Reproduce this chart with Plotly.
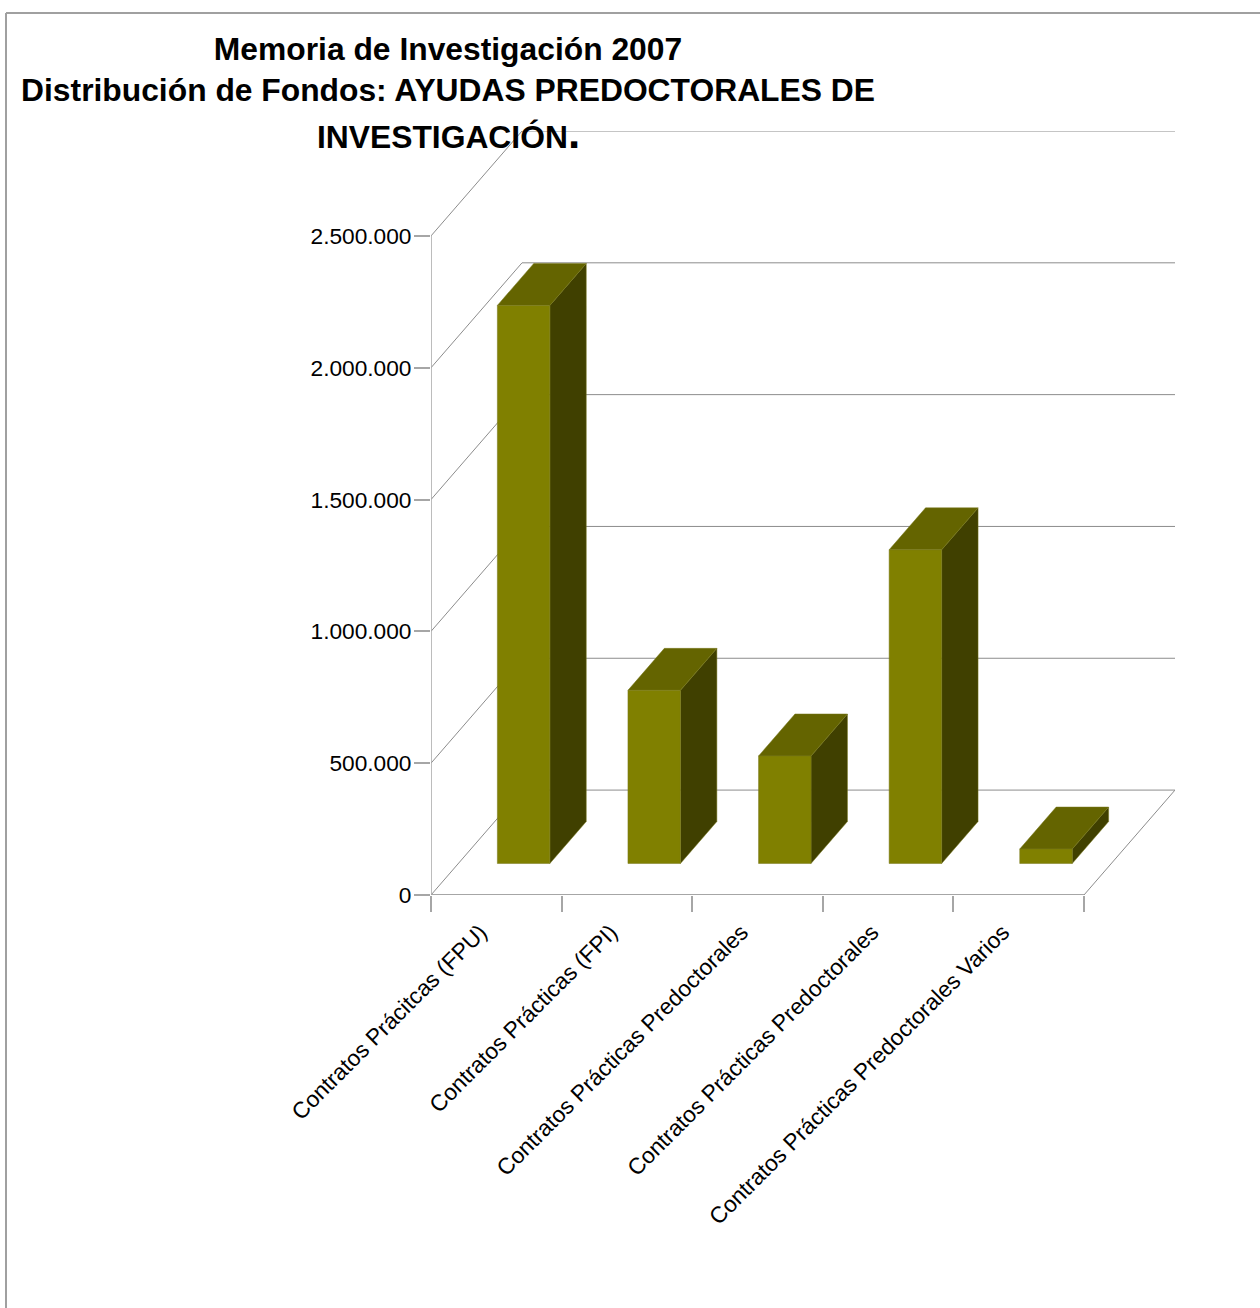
import plotly.graph_objects as go

categories = ["Contratos Prácitcas (FPU)", "Contratos Prácticas (FPI)", "Contratos Prácticas Predoctorales",
              "Contratos Prácticas Predoctorales", "Contratos Prácticas Predoctorales Varios"]
values = [2117000, 657000, 408000, 1190000, 55000]
y_ticks = [0, 500000, 1000000, 1500000, 2000000, 2500000]
y_labels = ["0", "500.000", "1.000.000", "1.500.000", "2.000.000", "2.500.000"]

FRONT, TOP, SIDE = "#808000", "#646400", "#404000"
GRID = "#8c8c8c"
AXIS = "#a6a6a6"
FONT = "Liberation Sans"

# oblique projection of the depth direction, in axis units
DEPTH_X = 0.697
DEPTH_Y = 398000
BAR_HALF = 0.201
D0, D1 = 0.3, 0.7


def proj(x, y, d):
    return x + d * DEPTH_X, y + d * DEPTH_Y


def poly(points, color):
    xs, ys = zip(*[proj(*p) for p in points])
    return go.Scatter(x=list(xs), y=list(ys), mode="lines", fill="toself", fillcolor=color,
                      line=dict(color="#77771a", width=0.5), hoverinfo="skip", showlegend=False)


def line(points, color=GRID, width=1):
    xs, ys = zip(*[proj(*p) for p in points])
    return go.Scatter(x=list(xs), y=list(ys), mode="lines", line=dict(color=color, width=width),
                      hoverinfo="skip", showlegend=False)


n = len(categories)
fig = go.Figure()

# walls and floor
for t in y_ticks:
    fig.add_trace(line([(0, t, 0), (0, t, 1), (n, t, 1)]))
fig.add_trace(line([(n, 0, 0), (n, 0, 1)]))
fig.add_trace(line([(0, 0, 0), (0, y_ticks[-1], 0)], AXIS, 1.5))
fig.add_trace(line([(0, 0, 0), (n, 0, 0)], AXIS, 2))

# bars
for i, v in enumerate(values):
    l, r = i + 0.5 - BAR_HALF, i + 0.5 + BAR_HALF
    fig.add_trace(poly([(r, 0, D0), (r, 0, D1), (r, v, D1), (r, v, D0), (r, 0, D0)], SIDE))
    fig.add_trace(poly([(l, v, D0), (r, v, D0), (r, v, D1), (l, v, D1), (l, v, D0)], TOP))
    fig.add_trace(poly([(l, 0, D0), (r, 0, D0), (r, v, D0), (l, v, D0), (l, 0, D0)], FRONT))

W, H = 1260, 1308
L, R, T, B = 431, 1175, 131, 895


def px(x):
    return (x - L) / (R - L)


def py(y):
    return (B - y) / (B - T)


fig.update_layout(
    width=W, height=H,
    margin=dict(l=L, r=W - R, t=T, b=H - B, pad=0, autoexpand=False),
    paper_bgcolor="white", plot_bgcolor="white",
    font=dict(family=FONT, color="black", size=20),
    showlegend=False,
    title=dict(
        text="<b>Memoria de Investigación 2007<br>Distribución de Fondos: AYUDAS PREDOCTORALES DE</b>",
        x=448 / W, xref="container", xanchor="center",
        y=1 - 57 / H, yref="container", yanchor="top",
        font=dict(family=FONT, size=31.8, color="black"),
        pad=dict(t=3),
    ),
    annotations=[dict(
        text="<b>INVESTIGACIÓN<span style='font-size:44px'>.</span></b>",
        xref="paper", yref="paper", x=px(448), y=py(133), xanchor="center", yanchor="middle",
        showarrow=False, font=dict(family=FONT, size=31.8, color="black"),
    )],
    shapes=[
        dict(type="line", xref="paper", yref="paper", x0=px(6), x1=px(W), y0=py(13), y1=py(13),
             line=dict(color="#a0a0a0", width=2)),
        dict(type="line", xref="paper", yref="paper", x0=px(6), x1=px(6), y0=py(13), y1=py(H),
             line=dict(color="#a0a0a0", width=2)),
    ],
    xaxis=dict(
        range=[0, n + DEPTH_X], showgrid=False, zeroline=False, showline=False,
        tickmode="array", tickvals=[i + 0.5 for i in range(n)], ticktext=categories,
        tickangle=-45, ticks="outside", ticklen=14, tickcolor="rgba(0,0,0,0)",
        ticklabelshift=-16,
        tickfont=dict(family=FONT, size=22.7, color="black"),
        minor=dict(tickmode="array", tickvals=list(range(n + 1)), ticks="outside", ticklen=16,
                   tickcolor=AXIS, tickwidth=1.5, showgrid=False),
    ),
    yaxis=dict(
        range=[0, y_ticks[-1] + DEPTH_Y], showgrid=False, zeroline=False, showline=False,
        tickmode="array", tickvals=y_ticks, ticktext=y_labels,
        ticks="outside", ticklen=16, tickcolor=AXIS, tickwidth=1.5, ticklabelstandoff=-2,
        tickfont=dict(family=FONT, size=22.7, color="black"),
    ),
)

fig.write_html("out.html", config=dict(displayModeBar=False),
               post_script="document.body.style.margin='0';document.body.style.overflow='hidden';")
